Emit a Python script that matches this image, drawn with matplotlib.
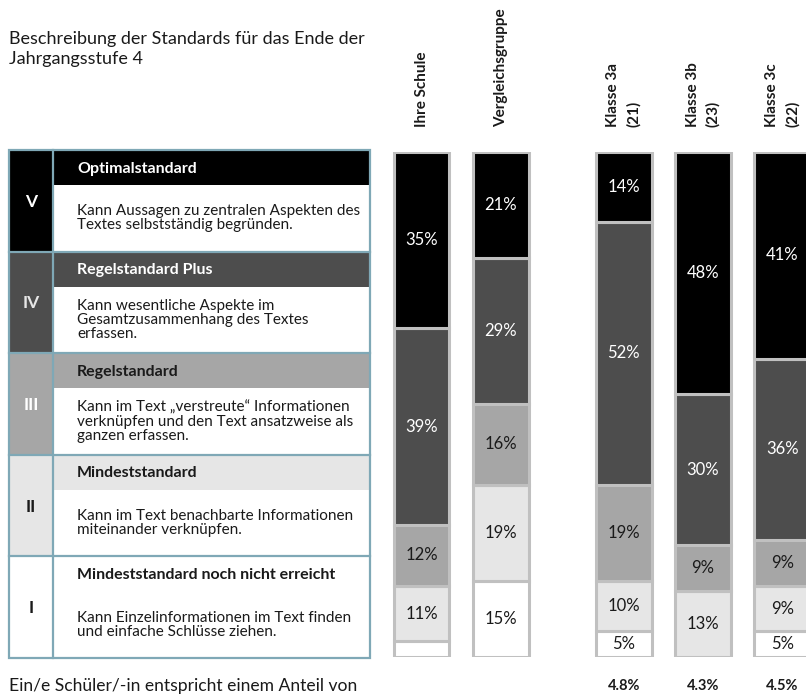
"""Kompetenzstufen Lesen: Verteilung nach Schule, Vergleichsgruppe und Klassen."""
import numpy as np
import matplotlib.pyplot as plt
from matplotlib.patches import Rectangle

plt.rcParams["font.family"] = ["Lato", "DejaVu Sans"]

# -------------------------------------------------------
# Data.
# -------------------------------------------------------
title = "Beschreibung der Standards für das Ende der\nJahrgangsstufe 4"
roman = ["V", "IV", "III", "II", "I"]
level_names = ["Optimalstandard", "Regelstandard Plus", "Regelstandard",
               "Mindeststandard", "Mindeststandard noch nicht erreicht"]
level_texts = [
    "Kann Aussagen zu zentralen Aspekten des\nTextes selbstständig begründen.",
    "Kann wesentliche Aspekte im\nGesamtzusammenhang des Textes\nerfassen.",
    "Kann im Text \u201everstreute\u201c Informationen\nverknüpfen und den Text ansatzweise als\nganzen erfassen.",
    "Kann im Text benachbarte Informationen\nmiteinander verknüpfen.",
    "Kann Einzelinformationen im Text finden\nund einfache Schlüsse ziehen.",
]
groups = ["Ihre Schule", "Vergleichsgruppe", "Klasse 3a\n(21)",
          "Klasse 3b\n(23)", "Klasse 3c\n(22)"]
# shares per level, ordered V, IV, III, II, I
level_v = [35, 21, 14, 48, 41]
level_iv = [39, 29, 52, 30, 36]
level_iii = [12, 16, 19, 9, 9]
level_ii = [11, 19, 10, 13, 9]
level_i = [3, 15, 5, 0, 5]
student_share = ["", "", "4.8%", "4.3%", "4.5%"]
footer = "Ein/e Schüler/-in entspricht einem Anteil von"

# -------------------------------------------------------
# Plot setup.
# -------------------------------------------------------
W, H = 806, 698
level_colors = ["#000000", "#4d4d4d", "#a6a6a6", "#e6e6e6", "#ffffff"]
text_colors = ["white", "white", "#1a1a1a", "#1a1a1a", "#1a1a1a"]
roman_colors = ["white", "#e6e6e6", "white", "#1a1a1a", "#1a1a1a"]
border = "#7fa8b6"
bar_edge = "#c0c0c0"

fig = plt.figure(figsize=(W / 100, H / 100), dpi=100)
bg = fig.add_axes([0, 0, 1, 1])
bg.set_xlim(0, W)
bg.set_ylim(H, 0)
bg.axis("off")

bg.text(9, 31, title, fontsize=13, color="#1a1a1a", va="top",
        linespacing=1.3)

# -------------------------------------------------------
# Legend table.
# -------------------------------------------------------
t_left, t_right, t_top, t_bot = 9, 370, 150, 658
col_x = 53
row_h = (t_bot - t_top) / len(roman)
head_h = 35
for i in range(len(roman)):
    y0 = t_top + i * row_h
    bg.add_patch(Rectangle((t_left, y0), col_x - t_left, row_h,
                           facecolor=level_colors[i], edgecolor="none"))
    bg.add_patch(Rectangle((col_x, y0), t_right - col_x, head_h,
                           facecolor=level_colors[i], edgecolor="none"))
    bg.text((t_left + col_x) / 2, y0 + row_h / 2 + 1, roman[i],
            fontsize=12.5, fontweight="bold", color=roman_colors[i],
            ha="center", va="center")
    bg.text(77, y0 + head_h / 2 + 1, level_names[i], fontsize=11.5,
            fontweight="bold", color=text_colors[i], va="center")
    bg.text(77, y0 + head_h + (row_h - head_h) / 2, level_texts[i],
            fontsize=11, color="#1a1a1a", va="center", linespacing=1.0)
    if i > 0:
        bg.plot([t_left, t_right], [y0, y0], color=border, lw=1.6)
bg.plot([col_x, col_x], [t_top, t_bot], color=border, lw=1.6)
bg.add_patch(Rectangle((t_left, t_top), t_right - t_left, t_bot - t_top,
                       facecolor="none", edgecolor=border, lw=1.6))

bg.text(9, 686, footer, fontsize=12.6, color="#1a1a1a", va="center")

# -------------------------------------------------------
# Stacked bars.
# -------------------------------------------------------
unit = 79.3
x0_px = 421.5 - 0.5 * unit
y_top, y_bot = 151.5, 656.5
ax = fig.add_axes([x0_px / W, (H - y_bot) / H, (W - x0_px) / W,
                   (y_bot - y_top) / H])
ax.set_xlim(-0.5, -0.5 + (W - x0_px) / unit)
ax.set_ylim(0, 100)
ax.axis("off")

x = np.arange(len(groups), dtype=float)
x[2:] += 0.55
levels = [level_v, level_iv, level_iii, level_ii, level_i]
bottom = np.zeros(len(groups))
for k in range(len(levels) - 1, -1, -1):
    vals = np.array(levels[k], dtype=float)
    for j in range(len(groups)):
        if vals[j] <= 0:
            continue
        ax.bar(x[j], vals[j], bottom=bottom[j], width=0.706,
               color=level_colors[k], edgecolor=bar_edge, linewidth=2.2)
        if vals[j] >= 5:
            ax.text(x[j], bottom[j] + vals[j] / 2, "%d%%" % vals[j],
                    fontsize=12, color=text_colors[k], ha="center",
                    va="center")
    bottom += vals

# column labels and student share
for j in range(len(groups)):
    px = x0_px + (x[j] + 0.5) * unit
    bg.text(px, 127, groups[j], rotation=90, fontsize=11,
            fontweight="bold", color="#1a1a1a", ha="center", va="bottom",
            multialignment="left", linespacing=1.55)
    if student_share[j]:
        bg.text(px, 686, student_share[j], fontsize=10.5, fontweight="bold",
                color="#1a1a1a", ha="center", va="center")

plt.savefig("out.png", dpi=100)
plt.close()
